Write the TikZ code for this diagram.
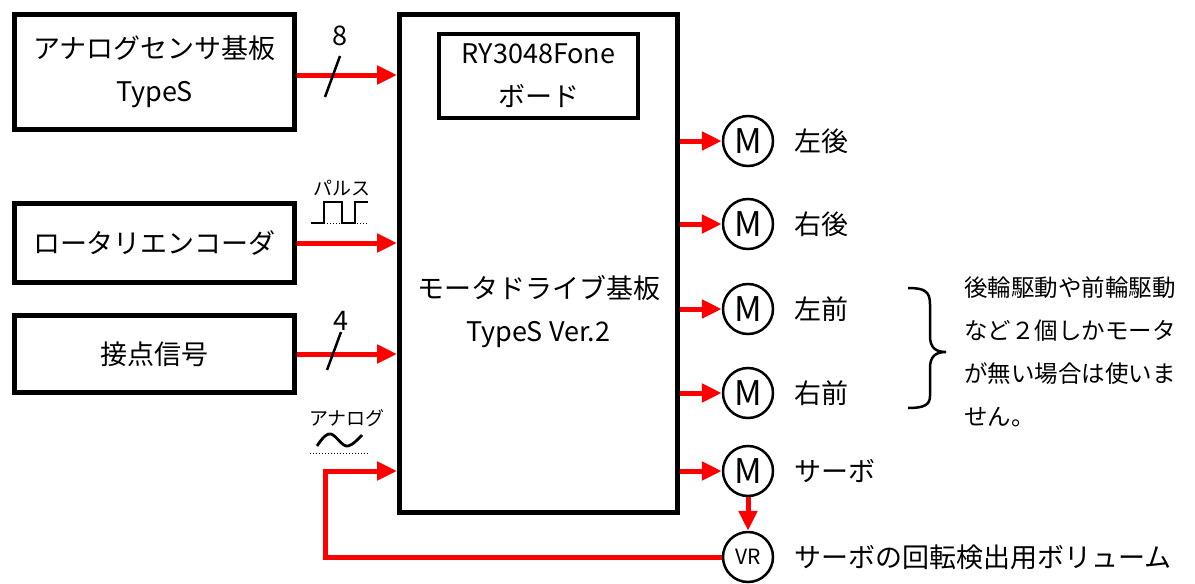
\documentclass[tikz,border=0pt]{standalone}
\usepackage{fontspec}
\setmainfont{Noto Sans CJK JP}
\usetikzlibrary{arrows.meta,calc}
\begin{document}
\begin{tikzpicture}[x=1pt,y=-1pt,
  box/.style={draw, line width=5pt, inner sep=0pt, align=center, font=\fontsize{27}{43}\selectfont},
  sig/.style={red, line width=5pt, -{Triangle[length=20pt,width=18pt]}},
  mot/.style={draw, circle, line width=2.5pt, minimum size=50pt, inner sep=0pt, font=\fontsize{34}{34}\selectfont},
  lbl/.style={font=\fontsize{27}{30}\selectfont, anchor=west, inner sep=0pt},
  txt/.style={font=\fontsize{27}{43}\selectfont, align=center, inner sep=0pt},
  small/.style={font=\fontsize{19}{22}\selectfont, inner sep=0pt},
  bus/.style={line width=2.5pt},
  wave/.style={line width=2pt}]
\useasboundingbox (0,0) rectangle (1195,584);
% boxes
\node[box, minimum width=280pt, minimum height=115pt] (asb) at (154.5,72) {アナログセンサ基板\\TypeS};
\node[box, minimum width=280pt, minimum height=79pt] (enc) at (154.5,243) {ロータリエンコーダ};
\node[box, minimum width=280pt, minimum height=77pt] (sw) at (154.5,354) {接点信号};
\node[box, minimum width=278pt, minimum height=498pt] (main) at (538.5,263.5) {};
\node[box, line width=4pt, minimum width=199pt, minimum height=84pt] (ry) at (538.5,76) {RY3048Fone\\ボード};
\node[txt] (mt) at (538.5,312) {モータドライブ基板\\TypeS Ver.2};
% motors
\node[mot] (m1) at (748,141) {M};
\node[mot] (m2) at (748,224) {M};
\node[mot] (m3) at (748,309) {M};
\node[mot] (m4) at (748,393) {M};
\node[mot] (ms) at (748,471) {M};
\node[mot, font=\fontsize{21}{22}\selectfont] (vr) at (748,557) {VR};
\node[lbl] (l1) at (794,141) {左後};
\node[lbl] (l2) at (794,224) {右後};
\node[lbl] (l3) at (794,309) {左前};
\node[lbl] (l4) at (794,393) {右前};
\node[lbl] (l5) at (794,471) {サーボ};
\node[lbl] (l6) at (794,557) {サーボの回転検出用ボリューム};
% inputs
\draw[sig] (asb.east |- 0,75) -- (main.west |- 0,75);
\draw[sig] (enc) -- (enc -| main.west);
\draw[sig] (sw) -- (sw -| main.west);
\draw[bus] (325,97) -- (340,56);
\node[font=\fontsize{27}{30}\selectfont, inner sep=0pt] (n8) at (340,36) {8};
\draw[bus] (327,370) -- (341,332);
\node[font=\fontsize{27}{30}\selectfont, inner sep=0pt] (n4) at (341,321) {4};
% pulse
\node[small] (pl) at (342,188) {パルス};
\draw[wave] (311,223) -- (324,223) -- (324,202) -- (342,202) -- (342,223) -- (355,223) -- (355,202) -- (368,202);
\draw[dotted, line width=1pt] (324,223) -- (368,223);
% analog
\node[small] (an) at (347,418) {アナログ};
\draw[line width=2.8pt] (317,446) .. controls (323,437) and (327,433) .. (331,434) .. controls (337,436) and (342,447) .. (348,446) .. controls (353,445) and (358,439) .. (362,435);
\draw[dotted, line width=1pt] (310,453) -- (368,453);
% outputs
\draw[sig] (m1 -| main.east) -- (m1);
\draw[sig] (m2 -| main.east) -- (m2);
\draw[sig] (m3 -| main.east) -- (m3);
\draw[sig] (m4 -| main.east) -- (m4);
\draw[sig] (ms -| main.east) -- (ms);
\draw[sig] (ms) -- (vr);
\coordinate (fb) at (325,471);
\draw[sig] (vr) -| (fb) -- (fb -| main.west);
% brace and note
\draw[line width=2.5pt] (908,288) .. controls (924,288) and (930,291) .. (930,304) -- (930,336) .. controls (930,348) and (936,352) .. (946,352)
  .. controls (936,352) and (930,356) .. (930,368) -- (930,396) .. controls (930,405) and (924,408) .. (908,408);
\node[font=\fontsize{23.5}{43}\selectfont, align=left, anchor=west, inner sep=0pt] (note) at (964,352) {後輪駆動や前輪駆動\\など２個しかモータ\\が無い場合は使いま\\せん。};
\end{tikzpicture}
\end{document}
